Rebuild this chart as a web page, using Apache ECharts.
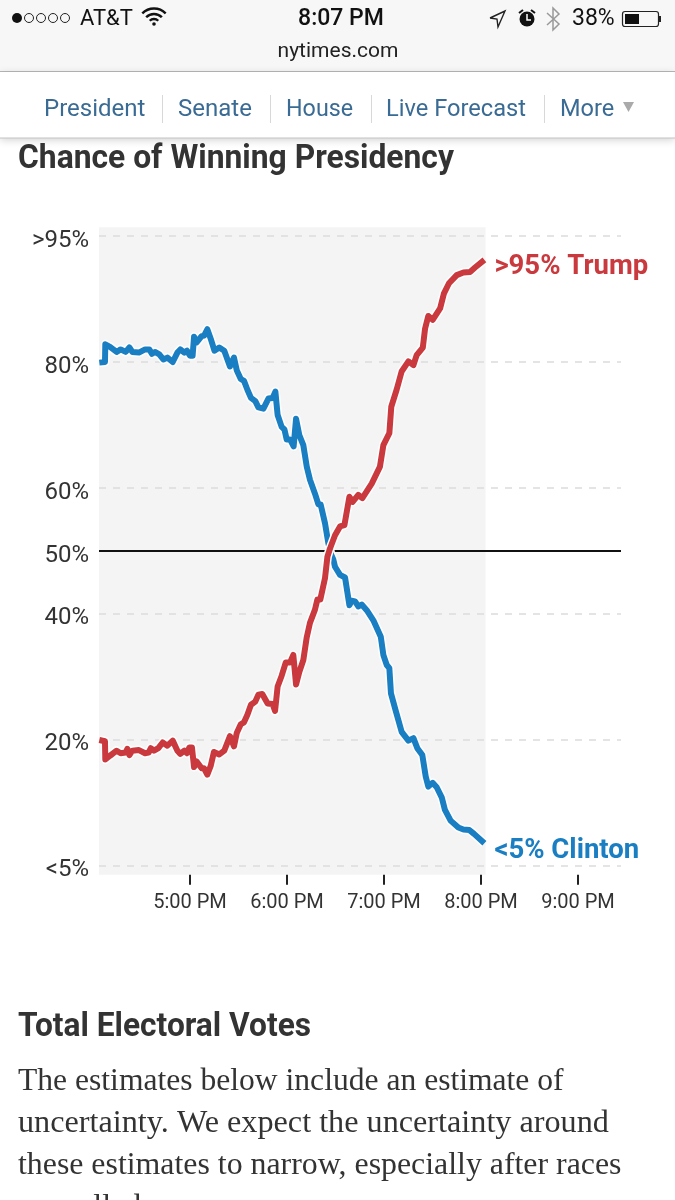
<!DOCTYPE html>
<html>
<head>
<meta charset="utf-8">
<style>html,body{margin:0;padding:0;background:#fff}#c{width:675px;height:1200px}</style>
<script src="https://cdn.jsdelivr.net/npm/echarts@6/dist/echarts.min.js"></script>
</head>
<body>
<div id="c"></div>
<script>
// Minutes after 4:00 PM
const clintonTimes = [3.9,7.4,7.6,10.5,14.6,17.1,20.2,22.5,24.3,28.4,32.2,34.8,36.5,38.3,41.0,43.5,46.0,49.3,52.2,54.0,56.5,58.1,60.0,61.6,62.5,64.1,67.2,68.7,70.7,72.8,75.1,78.1,81.2,84.7,87.2,88.9,91.4,93.4,95.5,97.7,100.4,102.3,105.4,108.5,111.1,112.8,114.2,116.7,118.4,119.8,121.9,124.1,125.6,127.6,130.1,132.2,134.2,137.3,139.4,140.8,143.5,145.6,147.0,148.7,149.7,152.8,155.9,158.6,160.0,162.1,164.1,166.2,169.3,173.4,178.0,179.6,181.7,183.3,184.3,187.4,190.9,195.1,198.2,200.6,203.7,205.8,207.4,210.1,212.6,215.7,217.7,221.2,226.0,229.1,232.8,235.7,242.1];
const clintonValues = [79.9,80.0,82.8,82.4,81.6,82.0,81.6,82.3,81.6,81.5,82.0,82.0,81.3,81.6,81.2,80.4,80.7,80.0,81.5,82.0,81.5,81.8,81.0,81.0,84.0,83.1,84.1,84.2,85.2,83.7,81.8,82.3,81.8,79.3,80.7,78.7,77.3,77.0,75.6,74.3,73.8,72.8,72.6,74.2,74.3,75.3,71.6,69.7,69.3,67.7,67.7,66.6,71.0,68.4,66.8,63.4,61.3,59.1,57.4,57.4,54.4,51.2,49.6,48.6,47.5,46.2,45.8,41.4,42.1,42.0,41.2,41.5,40.6,39.0,36.4,33.5,31.9,31.4,27.4,24.5,21.3,19.9,20.3,18.7,17.6,14.2,12.6,13.2,12.5,10.9,8.9,7.2,6.1,5.8,5.7,5.1,3.6];
const trumpTimes = [3.9,7.4,7.6,10.5,14.6,17.1,20.2,21.2,22.5,24.3,28.4,32.2,34.4,35.7,37.7,40.4,43.1,46.0,49.3,52.2,54.0,56.5,58.1,59.6,61.2,62.5,64.1,67.2,68.7,70.7,72.8,74.8,78.1,81.2,84.7,87.2,88.9,91.4,93.4,95.5,97.7,100.4,102.3,104.7,108.0,111.1,112.6,114.2,116.7,119.2,121.9,123.9,125.6,127.6,130.1,132.2,134.2,137.3,138.8,140.6,143.5,145.0,146.6,149.7,152.8,155.5,158.6,160.6,164.1,166.6,172.4,177.5,179.6,183.3,184.5,187.8,190.9,195.1,198.2,200.2,204.0,205.4,207.4,210.1,214.7,217.1,220.2,225.0,229.1,233.2,236.3,242.1];
const trumpValues = [20.0,19.8,16.9,17.5,18.3,17.9,18.0,18.6,17.6,18.3,18.4,17.9,18.0,18.7,18.3,18.7,19.6,19.1,19.9,18.3,17.8,18.3,17.9,18.8,18.8,15.7,16.6,15.5,15.5,14.5,15.9,18.1,17.7,18.3,20.6,19.0,21.1,22.5,22.8,24.0,25.6,26.1,27.2,27.3,25.8,25.7,24.6,28.5,30.2,32.3,32.3,33.5,28.8,30.8,32.7,36.3,38.6,40.7,42.3,42.3,45.7,49.1,50.4,52.5,53.9,54.1,58.6,57.8,58.9,58.4,60.7,63.4,66.8,68.7,72.9,75.6,78.5,80.1,79.5,81.1,82.3,85.3,87.3,86.7,88.5,90.9,92.5,93.8,94.2,94.3,95.0,96.2];
const xTickValues = [60,120,180,240,300];
const xTickLabels = ['5:00 PM','6:00 PM','7:00 PM','8:00 PM','9:00 PM'];
const yTickValues = [0,20,40,50,60,80,100];
const yTickLabels = ['<5%','20%','40%','50%','60%','80%','>95%'];
const dashedLevels = [0,20,40,60,80,100];
const midLevel = 50;
const xStart = 3.7, xEnd = 326.6, shadeEnd = 242.8, yBottom = -1.4, yTop = 101.4;
const trumpLabel = '>95% Trump', clintonLabel = '<5% Clinton';

const BLUE = '#1a7ec3', RED = '#c9393d', NAV = '#3a6b94', INK = '#333333';
const SANS = '"Roboto",sans-serif';
const pair = (a, b) => a.map((t, i) => [t, b[i]]);

function txt(x, y, text, font, fill, align, sx) {
  return {type:'text', x, y, scaleX:sx||1, silent:true, z:100, style:{text, font, fill, textAlign:align||'left', textVerticalAlign:'middle'}};
}
function rect(x, y, w, h, fill, extra) {
  return {type:'rect', silent:true, z:90, shape:{x,y,width:w,height:h}, style:Object.assign({fill}, extra||{})};
}
const chrome = [
  rect(0,0,675,71,'#f7f7f7'),
  rect(0,71,675,1,'#b8b8b8'),
  rect(0,72,675,66,'#ffffff',{shadowBlur:8,shadowColor:'rgba(0,0,0,0.18)',shadowOffsetY:2}),
  rect(0,137.5,675,1,'#c4c4c4'),
  {type:'circle',silent:true,z:100,shape:{cx:17,cy:18,r:5},style:{fill:'#111'}}
];
[29,41,53,65].forEach(cx => chrome.push({type:'circle',silent:true,z:100,shape:{cx,cy:18,r:4.5},style:{fill:'none',stroke:'#222',lineWidth:1}}));
chrome.push(txt(80,19,'AT&T','22px '+SANS,'#111'));
[[6,2.4],[11,2.4],[16.5,2.4]].forEach(a => chrome.push({type:'arc',silent:true,z:100,shape:{cx:154,cy:25,r:a[0],startAngle:-2.36,endAngle:-0.78},style:{stroke:'#111',lineWidth:a[1],fill:'none'}}));
chrome.push({type:'circle',silent:true,z:100,shape:{cx:154,cy:24,r:1.8},style:{fill:'#111'}});
chrome.push(txt(341,19,'8:07 PM','500 23px '+SANS,'#111','center'));
chrome.push({type:'polyline',silent:true,z:100,shape:{points:[[490,18],[505,11],[498,27],[497,19],[490,18]]},style:{stroke:'#222',lineWidth:1.4,fill:'none'}});
chrome.push({type:'circle',silent:true,z:100,shape:{cx:527,cy:19,r:7.5},style:{fill:'#111'}});
chrome.push({type:'polyline',silent:true,z:100,shape:{points:[[527,14],[527,20],[531,20]]},style:{stroke:'#fff',lineWidth:1.5,fill:'none'}});
chrome.push({type:'line',silent:true,z:100,shape:{x1:519,y1:13,x2:523,y2:10},style:{stroke:'#111',lineWidth:2}});
chrome.push({type:'line',silent:true,z:100,shape:{x1:535,y1:13,x2:531,y2:10},style:{stroke:'#111',lineWidth:2}});
chrome.push({type:'polyline',silent:true,z:100,shape:{points:[[547,13],[559,24],[553,30],[553,8],[559,14],[547,25]]},style:{stroke:'#999',lineWidth:1.5,fill:'none'}});
chrome.push(txt(572,19,'38%','23px '+SANS,'#111'));
chrome.push({type:'rect',silent:true,z:100,shape:{x:622.5,y:11.5,width:36,height:15,r:2.5},style:{fill:'none',stroke:'#222',lineWidth:1.2}});
chrome.push(rect(625,14,14,10,'#111'));chrome[chrome.length-1].z=100;
chrome.push(rect(659,16,2,6,'#222'));chrome[chrome.length-1].z=100;
chrome.push(txt(338,52,'nytimes.com','21px '+SANS,'#222','center'));

const navFont = '24px ' + SANS;
[[44,110,'President',1],[178,110,'Senate',1],[286,110,'House',0.97],[386,110,'Live Forecast',0.985],[560,110,'More',0.98]].forEach(n => chrome.push(txt(n[0],n[1],n[2],navFont,NAV,'left',n[3])));
[162,270,371,544].forEach(x => {const r=rect(x,95,1,28,'#d8d8d8');r.z=100;chrome.push(r);});
chrome.push({type:'polygon',silent:true,z:100,shape:{points:[[623,102],[634,102],[628.5,112]]},style:{fill:'#aaaaaa'}});

chrome.push(txt(18,160,'Chance of Winning Presidency','bold 33px '+SANS,INK,'left',0.964));
chrome.push(txt(18,1028,'Total Electoral Votes','bold 33px '+SANS,INK,'left',0.96));
const bodyFont = '31px "Liberation Serif",serif';
[[1082,'The estimates below include an estimate of',1.019],
 [1124,'uncertainty. We expect the uncertainty around',1.039],
 [1166,'these estimates to narrow, especially after races',1.027],
 [1208,'are called.',1.03]].forEach(l => chrome.push(txt(18,l[0],l[1],bodyFont,INK,'left',l[2])));

const endLabel = (text, color, dy) => ({
  show:true, formatter:text, color, distance:10, offset:[0,dy],
  fontSize:27.5, fontWeight:'bold', fontFamily:SANS
});
const chart = echarts.init(document.getElementById('c'), null, {renderer:'canvas', width:675, height:1200});
chart.setOption({
  animation:false,
  backgroundColor:'#ffffff',
  grid:{left:99, width:522, top:227.2, height:647.6},
  xAxis:{type:'value', min:xStart, max:xEnd, z:10, splitLine:{show:false},
    axisLine:{show:false, onZero:false},
    axisTick:{show:true, customValues:xTickValues, length:10, lineStyle:{color:'#222',width:2}},
    axisLabel:{show:true, customValues:xTickValues, margin:18, color:INK, fontSize:20, fontFamily:SANS,
      formatter:v => xTickLabels[xTickValues.indexOf(v)]}},
  yAxis:{type:'value', min:yBottom, max:yTop, z:10, splitLine:{show:false},
    axisLine:{show:false}, axisTick:{show:false},
    axisLabel:{show:true, customValues:yTickValues, margin:10, color:INK, fontSize:24, fontFamily:SANS, verticalAlign:'top', lineHeight:9,
      formatter:v => yTickLabels[yTickValues.indexOf(v)]}},
  graphic:{elements:chrome},
  series:[
    {type:'line', name:'shade', data:[], z:1, silent:true,
      markArea:{silent:true, z:1, itemStyle:{color:'#f4f4f4'}, label:{show:false},
        data:[[{coord:[xStart,yBottom]},{coord:[shadeEnd,yTop]}]]}},
    {type:'line', name:'levels', data:[], z:2, silent:true,
      markLine:{silent:true, z:2, symbol:'none', label:{show:false}, animation:false,
        data:dashedLevels.map(v => ({yAxis:v, lineStyle:{color:'#dcdcdc',type:[7,7],width:1.5}}))
          .concat([{yAxis:midLevel, lineStyle:{color:'#111',type:'solid',width:2}}])}},
    {type:'line', name:'clinton halo', data:pair(clintonTimes,clintonValues), z:3, showSymbol:false, silent:true,
      lineStyle:{color:'#ffffff',width:9,join:'round'}},
    {type:'line', name:'Clinton', data:pair(clintonTimes,clintonValues), z:4, showSymbol:false, silent:true,
      lineStyle:{color:BLUE,width:6,join:'round'}, endLabel:endLabel(clintonLabel,BLUE,8)},
    {type:'line', name:'trump halo', data:pair(trumpTimes,trumpValues), z:5, showSymbol:false, silent:true,
      lineStyle:{color:'#ffffff',width:9,join:'round'}},
    {type:'line', name:'Trump', data:pair(trumpTimes,trumpValues), z:6, showSymbol:false, silent:true,
      lineStyle:{color:RED,width:6,join:'round'}, endLabel:endLabel(trumpLabel,RED,7)}
  ]
});
</script>
</body>
</html>
